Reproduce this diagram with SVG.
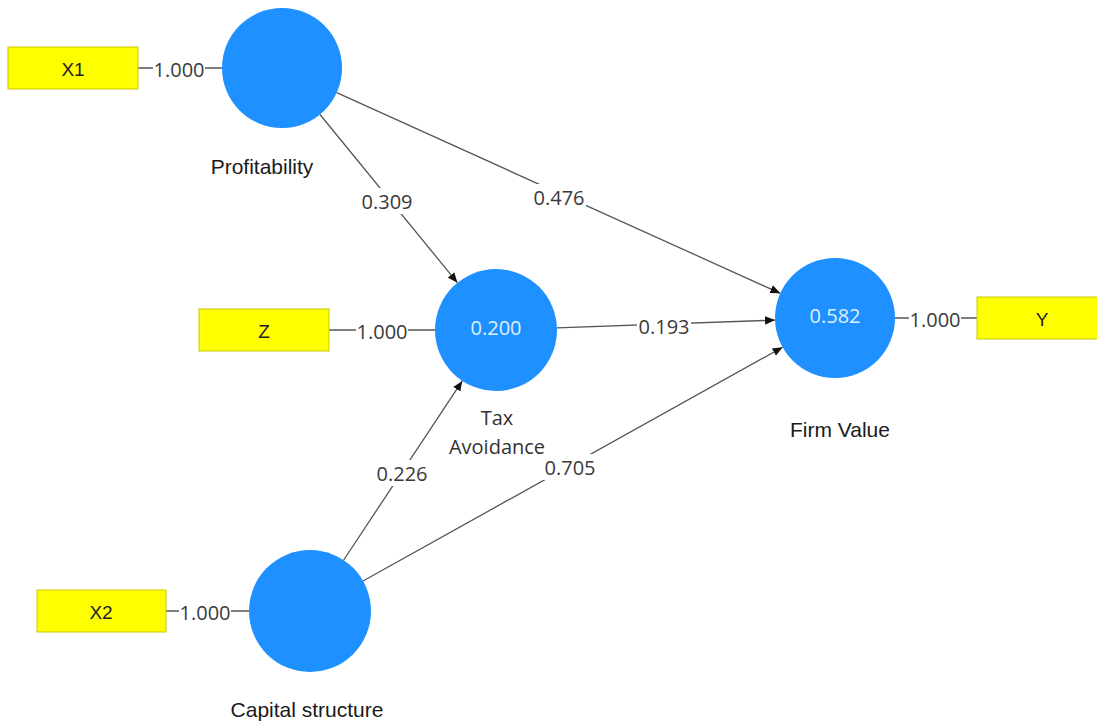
<svg xmlns="http://www.w3.org/2000/svg" width="1097" height="722" viewBox="0 0 1097 722">
<defs>
<marker id="arr" viewBox="0 0 10 10" refX="10" refY="5" markerWidth="10" markerHeight="10" markerUnits="userSpaceOnUse" orient="auto">
<path d="M0,0.8 L10,5 L0,9.2 Z" fill="#111"/>
</marker>
<style>
.lv{fill:#1e90ff;}
.ind{fill:#ffff00;stroke:#c9c900;stroke-width:1;}
.edge{stroke:#555;stroke-width:1.3;fill:none;}
.num{font-family:"Open Sans","Noto Sans",sans-serif;font-size:20px;fill:#3a3a3a;text-anchor:middle;dominant-baseline:central;}
.inner{font-family:"Open Sans","Noto Sans",sans-serif;font-size:20px;fill:#dff0ff;text-anchor:middle;dominant-baseline:central;}
.name{font-family:"Liberation Sans",Arial,sans-serif;font-size:21px;fill:#1a1a1a;text-anchor:middle;}
.name2{font-family:"Open Sans","Noto Sans",sans-serif;font-size:20px;fill:#333;text-anchor:middle;}
.itxt{font-family:"Liberation Sans",Arial,sans-serif;font-size:19px;fill:#222;text-anchor:middle;dominant-baseline:central;}
.bg{fill:#fff;}
</style>
</defs>
<rect width="1097" height="722" fill="#fff"/>
<g id="connectors">
<line class="edge" x1="320" y1="114.5" x2="457.4" y2="282.7" marker-end="url(#arr)"/>
<line class="edge" x1="336.7" y1="92.7" x2="780.3" y2="293.3" marker-end="url(#arr)"/>
<line class="edge" x1="557" y1="327.9" x2="775" y2="320.1" marker-end="url(#arr)"/>
<line class="edge" x1="343.7" y1="560" x2="462.3" y2="380.9" marker-end="url(#arr)"/>
<line class="edge" x1="363" y1="581" x2="782.6" y2="347.2" marker-end="url(#arr)"/>
<line class="edge" x1="138" y1="68" x2="222" y2="68"/>
<line class="edge" x1="329" y1="330" x2="436" y2="330"/>
<line class="edge" x1="895" y1="318" x2="977" y2="318"/>
<line class="edge" x1="166" y1="611" x2="249" y2="611"/>
<rect class="bg" x="360" y="188" width="54" height="26"/>
<text class="num" x="387" y="201">0.309</text>
<rect class="bg" x="532" y="184" width="54" height="26"/>
<text class="num" x="559" y="197">0.476</text>
<rect class="bg" x="637" y="313" width="54" height="26"/>
<text class="num" x="664" y="326">0.193</text>
<rect class="bg" x="375" y="460" width="54" height="26"/>
<text class="num" x="402" y="473">0.226</text>
<rect class="bg" x="543" y="454" width="54" height="26"/>
<text class="num" x="570" y="467">0.705</text>
<rect class="bg" x="153" y="57" width="52" height="24"/>
<text class="num" x="179" y="69">1.000</text>
<rect class="bg" x="356" y="319" width="52" height="24"/>
<text class="num" x="382" y="331">1.000</text>
<rect class="bg" x="909" y="307" width="52" height="24"/>
<text class="num" x="935" y="319">1.000</text>
<rect class="bg" x="179" y="600" width="52" height="24"/>
<text class="num" x="205" y="612">1.000</text>
</g>
<g id="X1">
<rect class="ind" x="8" y="47" width="130" height="42"/>
<text class="itxt" x="73" y="69">X1</text>
</g>
<g id="Z">
<rect class="ind" x="199" y="309" width="130" height="42"/>
<text class="itxt" x="264" y="331">Z</text>
</g>
<g id="X2">
<rect class="ind" x="37" y="590" width="129" height="42"/>
<text class="itxt" x="101" y="612">X2</text>
</g>
<g id="Y">
<rect class="ind" x="977" y="297" width="130" height="42"/>
<text class="itxt" x="1042" y="319">Y</text>
</g>
<g id="Profitability">
<circle class="lv" cx="282" cy="68" r="60"/>
<text class="name" x="262" y="174">Profitability</text>
</g>
<g id="TaxAvoidance">
<circle class="lv" cx="496" cy="330" r="61"/>
<text class="inner" x="496" y="327">0.200</text>
<text class="name2" x="497" y="425">Tax</text>
<text class="name2" x="497" y="454">Avoidance</text>
</g>
<g id="FirmValue">
<circle class="lv" cx="835" cy="318" r="60"/>
<text class="inner" x="835" y="315">0.582</text>
<text class="name" x="840" y="437">Firm Value</text>
</g>
<g id="CapitalStructure">
<circle class="lv" cx="310" cy="611" r="61"/>
<text class="name" x="307" y="717">Capital structure</text>
</g>
</svg>
